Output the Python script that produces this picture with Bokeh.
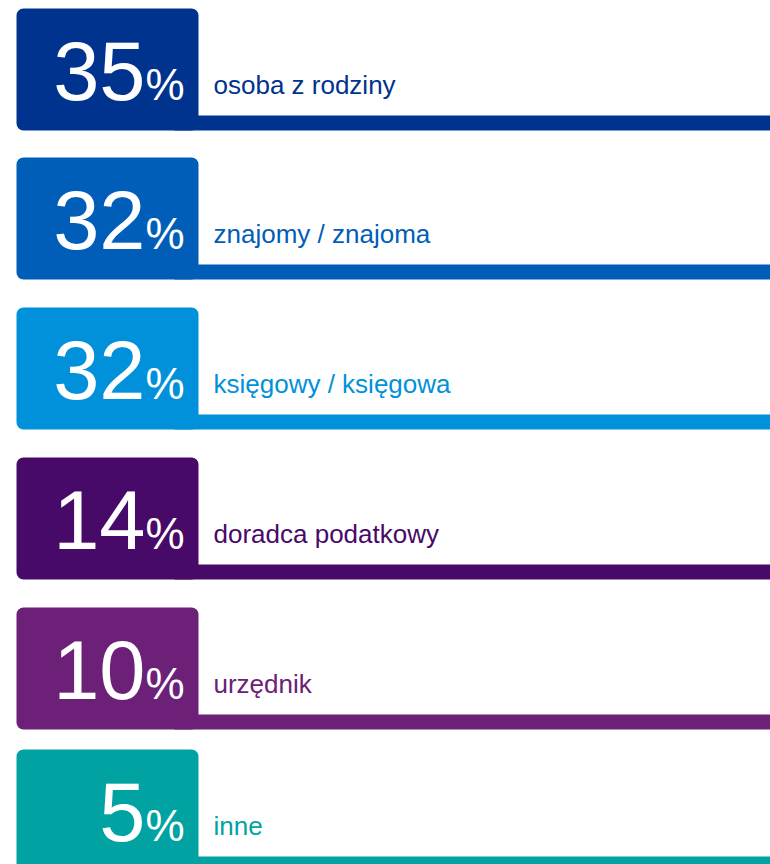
from bokeh.plotting import figure
from bokeh.models import ColumnDataSource
from bokeh.core.properties import value
from bokeh.embed import file_html
from bokeh.resources import INLINE

# ---- data ----
percentages = [35, 32, 32, 14, 10, 5]
labels = ["osoba z rodziny", "znajomy / znajoma", "księgowy / księgowa",
          "doradca podatkowy", "urzędnik", "inne"]
colors = ["#00338D", "#005EB8", "#0091DA", "#470A68", "#6D2077", "#00A3A1"]

# ---- layout (pixel space) ----
W, H = 770, 864
row_tops = [8, 157, 307, 457, 607, 749]
box_left, box_right, box_h = 16, 198, 122
bar_left, bar_h = 174, 15
num_x = 145
label_x = 213

p = figure(width=W, height=H, x_range=(0, W), y_range=(H, 0),
           output_backend="svg", toolbar_location=None, min_border=0,
           background_fill_color="white", border_fill_color="white")
p.axis.visible = False
p.grid.visible = False
p.outline_line_color = None

src = ColumnDataSource(dict(
    top=row_tops,
    bottom=[t + box_h for t in row_tops],
    bar_top=[t + box_h - bar_h for t in row_tops],
    num_y=[t + 62 for t in row_tops],
    pct_y=[t + 76 for t in row_tops],
    lab_y=[t + 76 for t in row_tops],
    num=[str(v) for v in percentages],
    pct=["%"] * len(percentages),
    label=labels,
    color=colors,
))

p.quad(left=box_left, right=box_right, top="top", bottom="bottom", source=src,
       fill_color="color", line_color=None, border_radius=7)
p.quad(left=bar_left, right=W, top="bar_top", bottom="bottom", source=src,
       fill_color="color", line_color=None)

p.text(x=num_x, y="num_y", text="num", source=src, text_align="right",
       text_baseline="alphabetic", text_color="white",
       text_font=value("Liberation Sans"), text_font_size="83px")
p.text(x=num_x, y="pct_y", text="pct", source=src, text_align="left",
       text_baseline="alphabetic", text_color="white",
       text_font=value("Liberation Sans"), text_font_size="44px")
p.text(x=label_x, y="lab_y", text="label", source=src, text_align="left",
       text_baseline="alphabetic", text_color="color",
       text_font=value("Liberation Sans"), text_font_size="26px")

open("out.html", "w").write(file_html(p, INLINE))
